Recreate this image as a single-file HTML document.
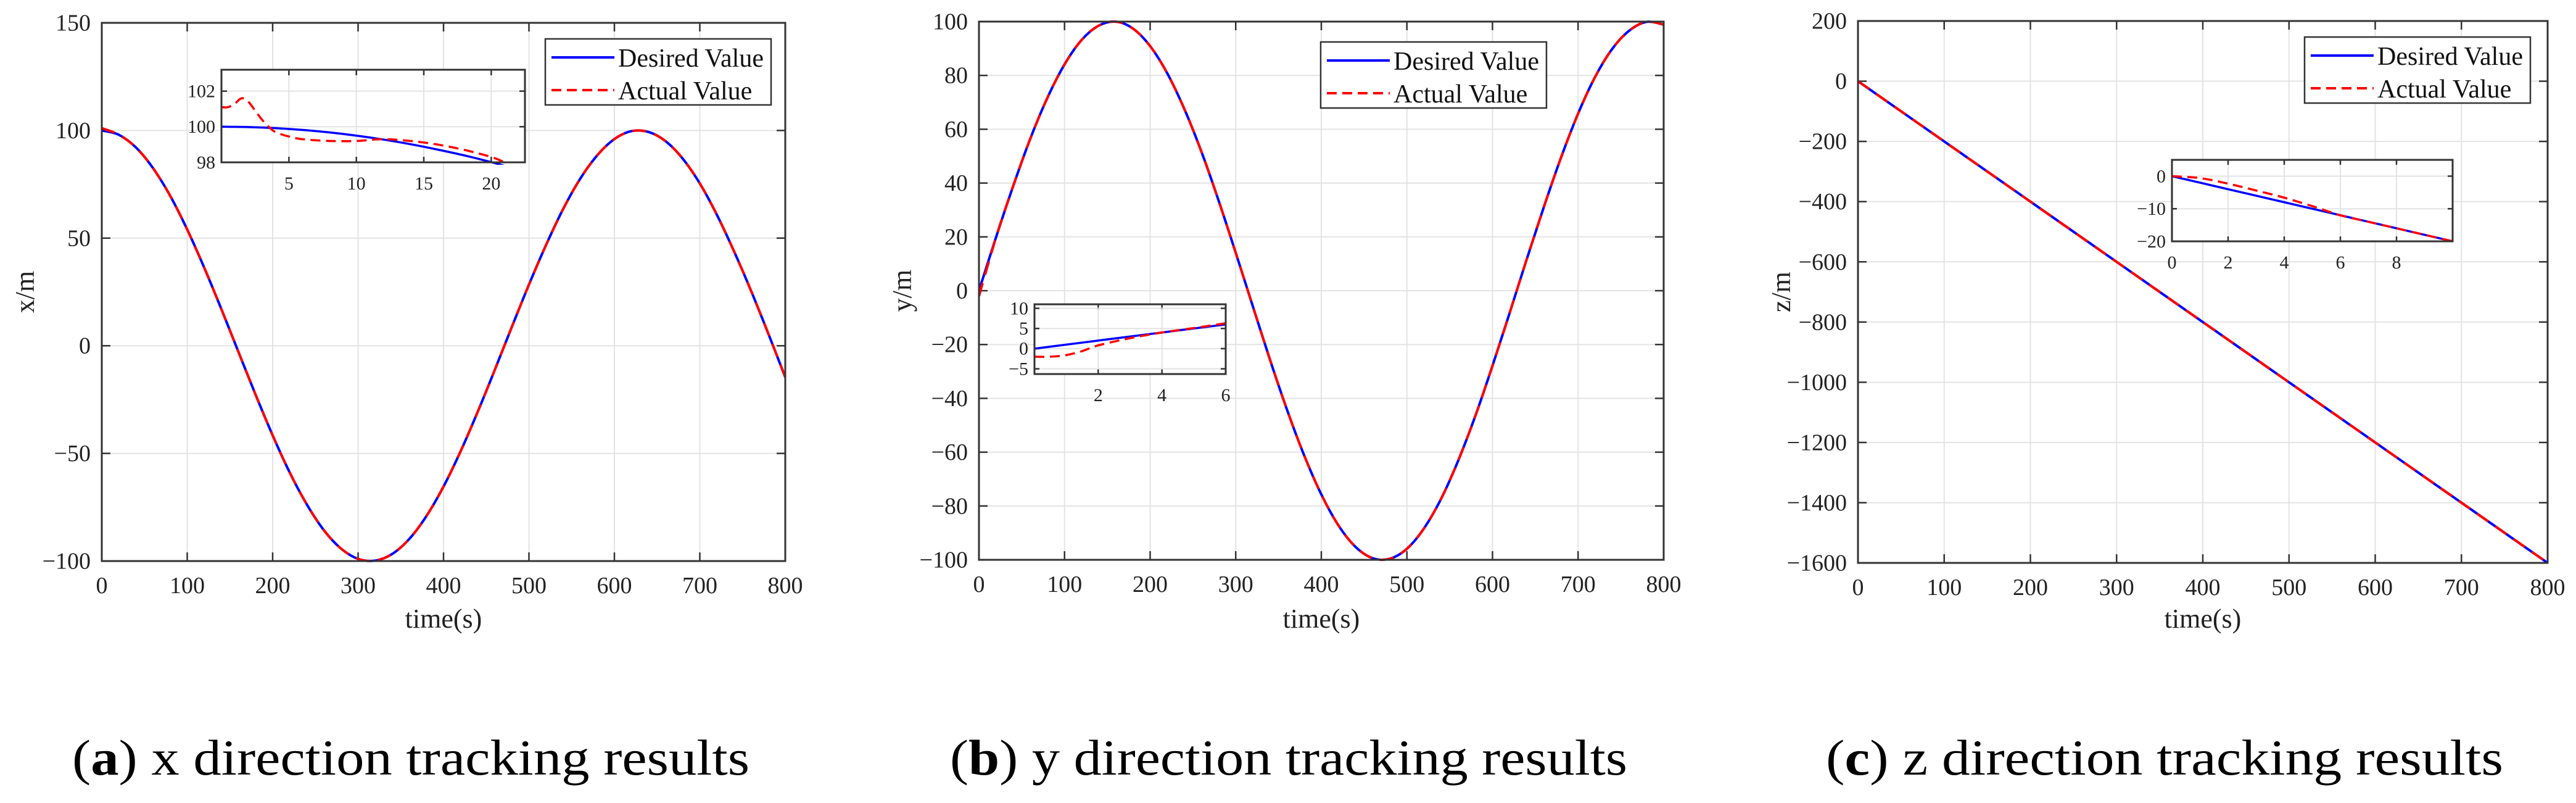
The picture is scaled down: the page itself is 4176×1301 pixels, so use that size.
<!DOCTYPE html>
<html><head><meta charset="utf-8">
<style>
html,body{margin:0;padding:0;background:#fff;}
svg{display:block;font-family:"Liberation Serif",serif;}
</style></head>
<body>
<svg id="fig" width="4176" height="1301" viewBox="0 0 4176 1301" xmlns="http://www.w3.org/2000/svg"></svg>
<script>
// ---- data ----
const tMain = [0,20,40,60,80,100,120,140,160,180,200,220,240,260,280,300,320,340,360,380,400,420,440,460,480,500,520,540,560,580,600,620,640,660,680,700,720,740,760,780,800];
const xDesired = [100,98.0,92.1,82.5,69.7,54.0,36.2,17.0,-2.9,-22.7,-41.6,-58.9,-73.7,-85.7,-94.2,-99.0,-99.8,-96.7,-89.7,-79.1,-65.4,-49.0,-30.7,-11.2,8.8,28.4,46.8,63.5,77.6,88.5,96.0,99.7,99.3,95.0,86.9,75.4,60.8,43.9,25.5,5.8,-14.6];
const xActual = [101.1,98.0,92.1,82.5,69.7,54.0,36.2,17.0,-2.9,-22.7,-41.6,-58.9,-73.7,-85.7,-94.2,-99.0,-99.8,-96.7,-89.7,-79.1,-65.4,-49.0,-30.7,-11.2,8.8,28.4,46.8,63.5,77.6,88.5,96.0,99.7,99.3,95.0,86.9,75.4,60.8,43.9,25.5,5.8,-14.6];
const yDesired = [0,19.9,38.9,56.5,71.7,84.1,93.2,98.5,99.96,97.4,90.9,80.8,67.5,51.6,33.5,14.1,-5.8,-25.6,-44.3,-61.2,-75.7,-87.2,-95.2,-99.4,-99.6,-95.9,-88.3,-77.3,-63.1,-46.5,-27.9,-8.3,11.7,31.1,49.4,65.8,79.5,89.9,96.7,99.9,98.9];
const yActual = [-2.0,19.9,38.9,56.5,71.7,84.1,93.2,98.5,99.96,97.4,90.9,80.8,67.5,51.6,33.5,14.1,-5.8,-25.6,-44.3,-61.2,-75.7,-87.2,-95.2,-99.4,-99.6,-95.9,-88.3,-77.3,-63.1,-46.5,-27.9,-8.3,11.7,31.1,49.4,65.8,79.5,89.9,96.7,99.9,98.9];
const tZ = [0,100,200,300,400,500,600,700,800];
const zDesired = [0,-200,-400,-600,-800,-1000,-1200,-1400,-1600];
const zActual = [0,-200,-400,-600,-800,-1000,-1200,-1400,-1600];
// insets
const tInA = [0,2,4,6,8,10,12,14,16,18,20,21];
const inADesired = [100,99.98,99.92,99.82,99.68,99.5,99.28,99.02,98.72,98.39,98.01,97.8];
const tInAAct = [0,0.5,1,1.5,2,2.5,3,3.5,4,5,6,8,10,12,14,16,18,20,21];
const inAActual = [101.1,101.1,101.3,101.6,101.4,100.9,100.4,100.0,99.7,99.45,99.3,99.2,99.2,99.3,99.2,99.0,98.7,98.3,98.0];
const tInB = [0,1,2,3,4,5,6];
const inBDesired = [0,1,2,3,4,5,6];
const tInBAct = [0,0.5,1,1.5,2,3,4,5,6];
const inBActual = [-2.0,-2.0,-1.6,-0.6,0.8,2.6,4.0,5.1,6.3];
const tInC = [0,1,2,3,4,5,6,7,8,9,10];
const inCDesired = [0,-2,-4,-6,-8,-10,-12,-14,-16,-18,-20];
const inCActual = [0,-0.6,-2.3,-4.4,-6.6,-9.2,-12,-14,-16,-18,-20];
const xTicksMain = [0,100,200,300,400,500,600,700,800];
const yTicksA = [-100,-50,0,50,100,150];
const yTicksB = [-100,-80,-60,-40,-20,0,20,40,60,80,100];
const yTicksC = [-1600,-1400,-1200,-1000,-800,-600,-400,-200,0,200];

const NS="http://www.w3.org/2000/svg";
const svg=document.getElementById('fig');
function el(tag,attrs,parent,text){const e=document.createElementNS(NS,tag);for(const k in attrs)e.setAttribute(k,attrs[k]);if(text!==undefined)e.textContent=text;(parent||svg).appendChild(e);return e;}
function scale(d0,d1,r0,r1){return v=>r0+(v-d0)/(d1-d0)*(r1-r0);}
function pathD(xs,ys,sx,sy){
  const P=xs.map((x,i)=>[sx(x),sy(ys[i])]);
  let d='M'+P[0][0].toFixed(2)+','+P[0][1].toFixed(2);
  for(let i=0;i<P.length-1;i++){
    const p0=P[Math.max(0,i-1)],p1=P[i],p2=P[i+1],p3=P[Math.min(P.length-1,i+2)];
    const c1=[p1[0]+(p2[0]-p0[0])/6,p1[1]+(p2[1]-p0[1])/6];
    const c2=[p2[0]-(p3[0]-p1[0])/6,p2[1]-(p3[1]-p1[1])/6];
    d+=' C'+c1[0].toFixed(2)+','+c1[1].toFixed(2)+' '+c2[0].toFixed(2)+','+c2[1].toFixed(2)+' '+p2[0].toFixed(2)+','+p2[1].toFixed(2);
  }
  return d;
}
function axes(o){
  const g=el('g',{});
  
  
  const sx=scale(o.xd[0],o.xd[1],o.x0,o.x1), sy=scale(o.yd[0],o.yd[1],o.y0,o.y1);
  el('rect',{x:o.x0,y:o.y1,width:o.x1-o.x0,height:o.y0-o.y1,fill:'#fff'},g);
  const fs=o.fs, tl=o.tl;
  o.xt.forEach(v=>{const X=sx(v);
    const gl=el('line',{x1:X,x2:X,y1:o.y0,y2:o.y1,stroke:'#e3e3e3','stroke-width':2},g);
    
    el('line',{x1:X,x2:X,y1:o.y0,y2:o.y0-tl,stroke:'#333','stroke-width':2.5},g);
    el('line',{x1:X,x2:X,y1:o.y1,y2:o.y1+tl,stroke:'#333','stroke-width':2.5},g);
    const t=el('text',{x:X,y:o.y0+o.xlOff,'font-size':fs,'text-anchor':'middle',fill:'#222'},g,String(v));
    
  });
  o.yt.forEach(v=>{const Y=sy(v);
    const gl=el('line',{x1:o.x0,x2:o.x1,y1:Y,y2:Y,stroke:'#e3e3e3','stroke-width':2},g);
    
    el('line',{x1:o.x0,x2:o.x0+tl,y1:Y,y2:Y,stroke:'#333','stroke-width':2.5},g);
    el('line',{x1:o.x1,x2:o.x1-tl,y1:Y,y2:Y,stroke:'#333','stroke-width':2.5},g);
    const t=el('text',{x:o.x0-o.ylOff,y:Y+fs*0.33,'font-size':fs,'text-anchor':'end',fill:'#222'},g,String(v).replace('-','\u2212'));
    
  });
  const clip='clip'+o.name;
  const cp=el('clipPath',{id:clip},g);
  el('rect',{x:o.x0,y:o.y1-4,width:o.x1-o.x0+4,height:o.y0-o.y1+8},cp);
  o.series.forEach(s=>{
    const p=el('path',{d:pathD(s.x,s.y,sx,sy),fill:'none',stroke:s.c,'stroke-width':o.lw,'stroke-dasharray':s.dash||'none','clip-path':'url(#'+clip+')'},g);
    
  });
  el('rect',{x:o.x0,y:o.y1,width:o.x1-o.x0,height:o.y0-o.y1,fill:'none',stroke:'#333','stroke-width':3},g);
  return g;
}
function legend(x,y,name){
  const g=el('g',{});
  
  el('rect',{x:x,y:y,width:366,height:107,fill:'#fff',stroke:'#333','stroke-width':2.5},g);
  el('line',{x1:x+10,x2:x+112,y1:y+30,y2:y+30,stroke:'#0000ff','stroke-width':4},g);
  el('line',{x1:x+10,x2:x+112,y1:y+83,y2:y+83,stroke:'#ff0000','stroke-width':4,'stroke-dasharray':'16,9'},g);
  const t1=el('text',{x:x+118,y:y+45,'font-size':42,fill:'#111'},g,'Desired Value');
  
  const t2=el('text',{x:x+118,y:y+98,'font-size':42,fill:'#111'},g,'Actual Value');
  
}
function labels(x0,x1,y0,y1,ylab,cap,capLetter,capX){
  const cx=(x0+x1)/2;
  const t=el('text',{x:cx,y:1017,'font-size':44,'text-anchor':'middle',fill:'#222'},svg,'time(s)');
  
  const yl=el('text',{x:0,y:0,'font-size':44,'text-anchor':'middle',fill:'#222',transform:'translate('+(x0-110)+','+((y0+y1)/2)+') rotate(-90)'},svg,ylab);
  
  const c=el('text',{x:capX,y:1255,'font-size':82,fill:'#000',textLength:1098,lengthAdjust:'spacingAndGlyphs'},svg);
  
  el('tspan',{},c,'(');el('tspan',{'font-weight':'bold'},c,capLetter);el('tspan',{},c,') '+cap);
}
const M={fs:38,tl:14,xlOff:52,ylOff:18,lw:4};
// Panel a
axes(Object.assign({name:'panel-a-axes',x0:165,x1:1273,y0:909,y1:37,xd:[0,800],yd:[-100,150],xt:xTicksMain,yt:yTicksA,
 series:[{name:'x-desired-line',x:tMain,y:xDesired,c:'#0000ff'},{name:'x-actual-line',x:tMain,y:xActual,c:'#ff0000',dash:'22,14'}]},M));
legend(884,63,'legend-a');
axes({name:'inset-a',x0:359,x1:851,y0:263,y1:113,xd:[0,22.5],yd:[98,103.2],xt:[5,10,15,20],yt:[98,100,102],fs:30,tl:9,xlOff:44,ylOff:10,lw:3.5,
 series:[{name:'inset-a-desired',x:tInA,y:inADesired,c:'#0000ff'},{name:'inset-a-actual',x:tInAAct,y:inAActual,c:'#ff0000',dash:'16,9'}]});
labels(165,1273,909,37,'x/m','x direction tracking results','a',117);
// Panel b
axes(Object.assign({name:'panel-b-axes',x0:1587,x1:2697,y0:907,y1:35,xd:[0,800],yd:[-100,100],xt:xTicksMain,yt:yTicksB,
 series:[{name:'y-desired-line',x:tMain,y:yDesired,c:'#0000ff'},{name:'y-actual-line',x:tMain,y:yActual,c:'#ff0000',dash:'22,14'}]},M));
legend(2141,68,'legend-b');
axes({name:'inset-b',x0:1677,x1:1987,y0:606,y1:493,xd:[0,6],yd:[-6.3,11],xt:[2,4,6],yt:[-5,0,5,10],fs:30,tl:8,xlOff:44,ylOff:10,lw:3.5,
 series:[{name:'inset-b-desired',x:tInB,y:inBDesired,c:'#0000ff'},{name:'inset-b-actual',x:tInBAct,y:inBActual,c:'#ff0000',dash:'16,9'}]});
labels(1587,2697,907,35,'y/m','y direction tracking results','b',1540);
// Panel c
axes(Object.assign({name:'panel-c-axes',x0:3012,x1:4130,y0:912,y1:34,xd:[0,800],yd:[-1600,200],xt:xTicksMain,yt:yTicksC,
 series:[{name:'z-desired-line',x:tZ,y:zDesired,c:'#0000ff'},{name:'z-actual-line',x:tZ,y:zActual,c:'#ff0000',dash:'22,14'}]},M));
legend(3736,60,'legend-c');
axes({name:'inset-c',x0:3521,x1:3976,y0:391,y1:259,xd:[0,10],yd:[-20,5],xt:[0,2,4,6,8],yt:[-20,-10,0],fs:30,tl:8,xlOff:44,ylOff:10,lw:3.5,
 series:[{name:'inset-c-desired',x:tInC,y:inCDesired,c:'#0000ff'},{name:'inset-c-actual',x:tInC,y:inCActual,c:'#ff0000',dash:'16,9'}]});
labels(3012,4130,912,34,'z/m','z direction tracking results','c',2960);
</script>
</body></html>
